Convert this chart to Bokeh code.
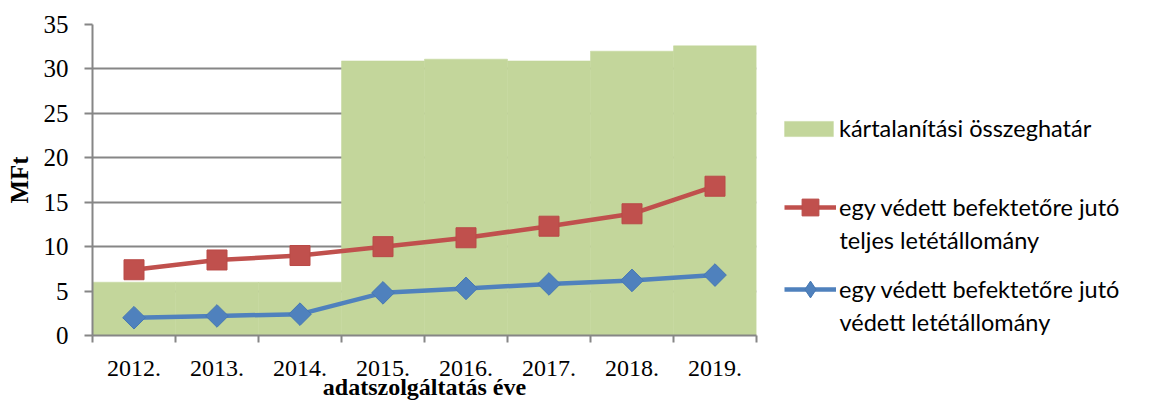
import numpy as np
from bokeh.plotting import figure
from bokeh.layouts import row
from bokeh.models import Range1d, FixedTicker, Legend, LegendItem, Label
from bokeh.embed import file_html
from bokeh.resources import INLINE

# ---- data ----
years = ["2012.", "2013.", "2014.", "2015.", "2016.", "2017.", "2018.", "2019."]
limit = [6.0, 6.0, 6.0, 30.9, 31.1, 30.9, 32.0, 32.6]          # kártalanítási összeghatár
total = [7.4, 8.5, 9.0, 10.0, 11.0, 12.3, 13.7, 16.8]          # teljes letétállomány / befektető
protected = [2.0, 2.2, 2.4, 4.8, 5.3, 5.8, 6.2, 6.8]           # védett letétállomány / befektető
y_ticks = [0, 5, 10, 15, 20, 25, 30, 35]
series_names = ["kártalanítási összeghatár",
                "egy védett befektetőre jutó",
                "teljes letétállomány",
                "egy védett befektetőre jutó",
                "védett letétállomány"]
x_title = "adatszolgáltatás éve"
y_title = "MFt"

GREEN = "#c3d69b"
RED = "#c0504d"
BLUE = "#4f81bd"
GRAY = "#868686"
SERIF = "Liberation Serif"
SANS = "Lato"

H = 402
TOP, BOTTOM = 24, 66
n = len(years)
xc = np.arange(n) + 0.5

p = figure(width=760, height=H, output_backend="svg", toolbar_location=None,
           x_range=Range1d(0, n), y_range=Range1d(y_ticks[0], y_ticks[-1]),
           min_border_left=92, min_border_right=4, min_border_top=TOP, min_border_bottom=BOTTOM)
p.outline_line_color = None

# axes
p.xaxis.ticker = FixedTicker(ticks=list(xc), minor_ticks=list(range(n + 1)))
p.xaxis.major_label_overrides = {float(v): years[i] for i, v in enumerate(xc)}
p.xaxis.major_tick_out = 0
p.xaxis.major_tick_in = 0
p.xaxis.minor_tick_out = 7
p.xaxis.minor_tick_in = 0
p.xaxis.minor_tick_line_color = GRAY
p.xaxis.minor_tick_line_width = 2
p.xaxis.axis_line_color = GRAY
p.xaxis.axis_line_width = 2
p.xaxis.major_label_standoff = 18
p.xaxis.major_label_text_font = SERIF
p.xaxis.major_label_text_font_size = "24px"
p.xaxis.major_label_text_color = "black"
p.xaxis.axis_label = x_title
p.xaxis.axis_label_text_font = SERIF
p.xaxis.axis_label_text_font_size = "24px"
p.xaxis.axis_label_text_font_style = "bold"
p.xaxis.axis_label_text_color = "black"
p.xaxis.axis_label_standoff = -5

p.yaxis.ticker = FixedTicker(ticks=y_ticks)
p.yaxis.minor_tick_line_color = None
p.yaxis.major_tick_out = 8
p.yaxis.major_tick_in = 0
p.yaxis.major_tick_line_color = GRAY
p.yaxis.major_tick_line_width = 2
p.yaxis.axis_line_color = GRAY
p.yaxis.axis_line_width = 2
p.yaxis.major_label_standoff = 16
p.yaxis.major_label_text_font = SERIF
p.yaxis.major_label_text_font_size = "25px"
p.yaxis.major_label_text_color = "black"
p.yaxis.axis_label = y_title
p.yaxis.axis_label_text_font = SERIF
p.yaxis.axis_label_text_font_size = "25px"
p.yaxis.axis_label_text_font_style = "bold"
p.yaxis.axis_label_text_color = "black"
p.yaxis.axis_label_standoff = 8

p.xgrid.visible = False
p.ygrid.grid_line_color = GRAY
p.ygrid.grid_line_width = 2

# glyphs
bar_kw = dict(fill_color=GREEN, line_color=GREEN, line_width=0.5)
red_line_kw = dict(line_width=4.5, line_color=RED)
red_mark_kw = dict(marker="square", fill_color=RED, line_color="#b94a47")
blue_line_kw = dict(line_width=4.5, line_color=BLUE)
blue_mark_kw = dict(fill_color=BLUE, line_color="#4678b3")

p.vbar(x=xc, top=limit, width=1.0, **bar_kw)
p.line(xc, total, **red_line_kw)
p.scatter(xc, total, size=20, **red_mark_kw)
p.line(xc, protected, **blue_line_kw)
p.scatter(xc, protected, size=16, marker="square", angle=np.pi / 4, **blue_mark_kw)

# ---- legend panel (separate canvas so it is not clipped by the plot frame) ----
lw = 1142 - 760
q = figure(width=lw, height=H, output_backend="svg", toolbar_location=None,
           x_range=Range1d(0, 1), y_range=Range1d(0, 1),
           min_border_left=0, min_border_right=0, min_border_top=TOP, min_border_bottom=BOTTOM,
           x_axis_type=None, y_axis_type=None)
q.outline_line_color = None
q.grid.visible = False

nan = [float("nan")]  # legend-only renderers: nothing visible in the panel itself
lg_bar = q.vbar(x=nan, top=nan, width=1.0, **bar_kw)
lg_rl = q.line(nan, nan, **red_line_kw)
lg_rs = q.scatter(nan, nan, size=20, **red_mark_kw)
lg_bl = q.line(nan, nan, **blue_line_kw)
lg_bs = q.scatter(nan, nan, size=16, marker="diamond", **blue_mark_kw)

FS = "23.5px"

def mk_legend(label, renderers, loc, gw, gh, standoff):
    lg = Legend(items=[LegendItem(label=label, renderers=renderers)], location=loc,
                glyph_width=gw, glyph_height=gh, padding=0, margin=0, spacing=0,
                label_standoff=standoff, border_line_color=None, background_fill_alpha=0,
                label_text_font=SANS, label_text_font_size=FS, label_text_color="black")
    q.add_layout(lg)
    return lg

mk_legend(series_names[0], [lg_bar], (18, 193), 61, 19, 0)
mk_legend(series_names[1], [lg_rl, lg_rs], (24, 107), 52, 42, 3)
mk_legend(series_names[3], [lg_bl, lg_bs], (24, 25), 52, 42, 3)

for txt, yy in [(series_names[2], 96), (series_names[4], 14)]:
    q.add_layout(Label(x=79, y=yy, x_units="screen", y_units="screen", text=txt,
                       text_baseline="middle", text_align="left", text_font=SANS,
                       text_font_size=FS, text_color="black"))

open("out.html", "w").write(file_html(row(p, q), INLINE))
